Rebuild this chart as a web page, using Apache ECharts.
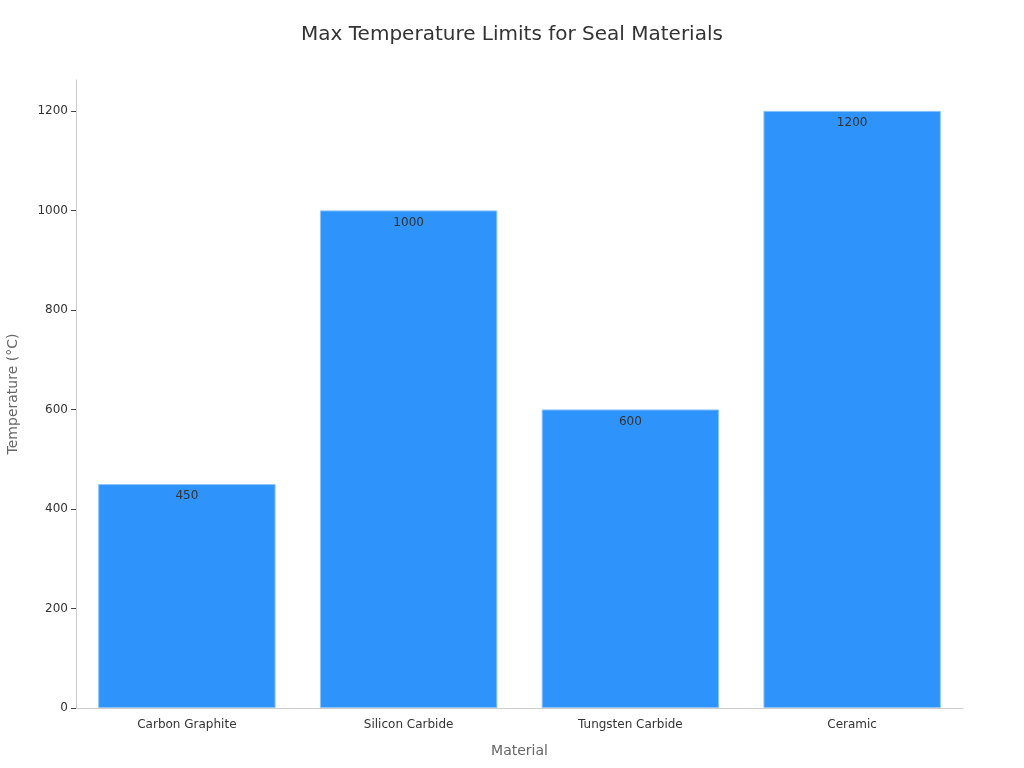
<!DOCTYPE html>
<html>
<head>
<meta charset="utf-8">
<script src="https://cdn.jsdelivr.net/npm/echarts@6/dist/echarts.min.js"></script>
<style>html,body{margin:0;padding:0;background:#fff}#c{width:1024px;height:768px}</style>
</head>
<body>
<div id="c"></div>
<script>
const categories = ["Carbon Graphite", "Silicon Carbide", "Tungsten Carbide", "Ceramic"];
const temperatures = [450, 1000, 600, 1200];
const yTicks = [0, 200, 400, 600, 800, 1000, 1200];

const chart = echarts.init(document.getElementById('c'));
chart.setOption({
  animation: false,
  textStyle: { fontFamily: 'DejaVu Sans' },
  title: {
    text: 'Max Temperature Limits for Seal Materials',
    left: 'center', top: 20,
    textStyle: { fontSize: 20, fontWeight: 'normal', color: '#333', fontFamily: 'DejaVu Sans' }
  },
  grid: { left: 76, right: 61, top: 80, bottom: 60, containLabel: false, outerBoundsMode: 'none' },
  xAxis: {
    type: 'category',
    data: categories,
    name: 'Material',
    nameLocation: 'middle',
    nameGap: 36,
    nameTextStyle: { fontSize: 14, color: '#666' },
    axisLine: { lineStyle: { color: '#ccc' } },
    axisTick: { alignWithLabel: true, lineStyle: { color: '#444' } },
    axisLabel: { fontSize: 12, color: '#333', margin: 11 }
  },
  yAxis: {
    type: 'value',
    min: 0, max: 1262, interval: 200,
    name: 'Temperature (°C)',
    nameLocation: 'middle',
    nameGap: 56,
    nameTextStyle: { fontSize: 14, color: '#666' },
    axisLine: { show: true, lineStyle: { color: '#ccc' } },
    axisTick: { show: true, customValues: yTicks, lineStyle: { color: '#444' } },
    axisLabel: { fontSize: 12, color: '#333', customValues: yTicks, formatter: v => String(v) },
    splitLine: { show: false }
  },
  series: [{
    type: 'bar',
    data: temperatures,
    barCategoryGap: '20%',
    itemStyle: { color: '#2E93FA', borderColor: '#8CC4FB', borderWidth: 1 },
    label: { show: true, position: 'insideTop', color: '#333', fontSize: 12, distance: 6 }
  }]
});
</script>
</body>
</html>
